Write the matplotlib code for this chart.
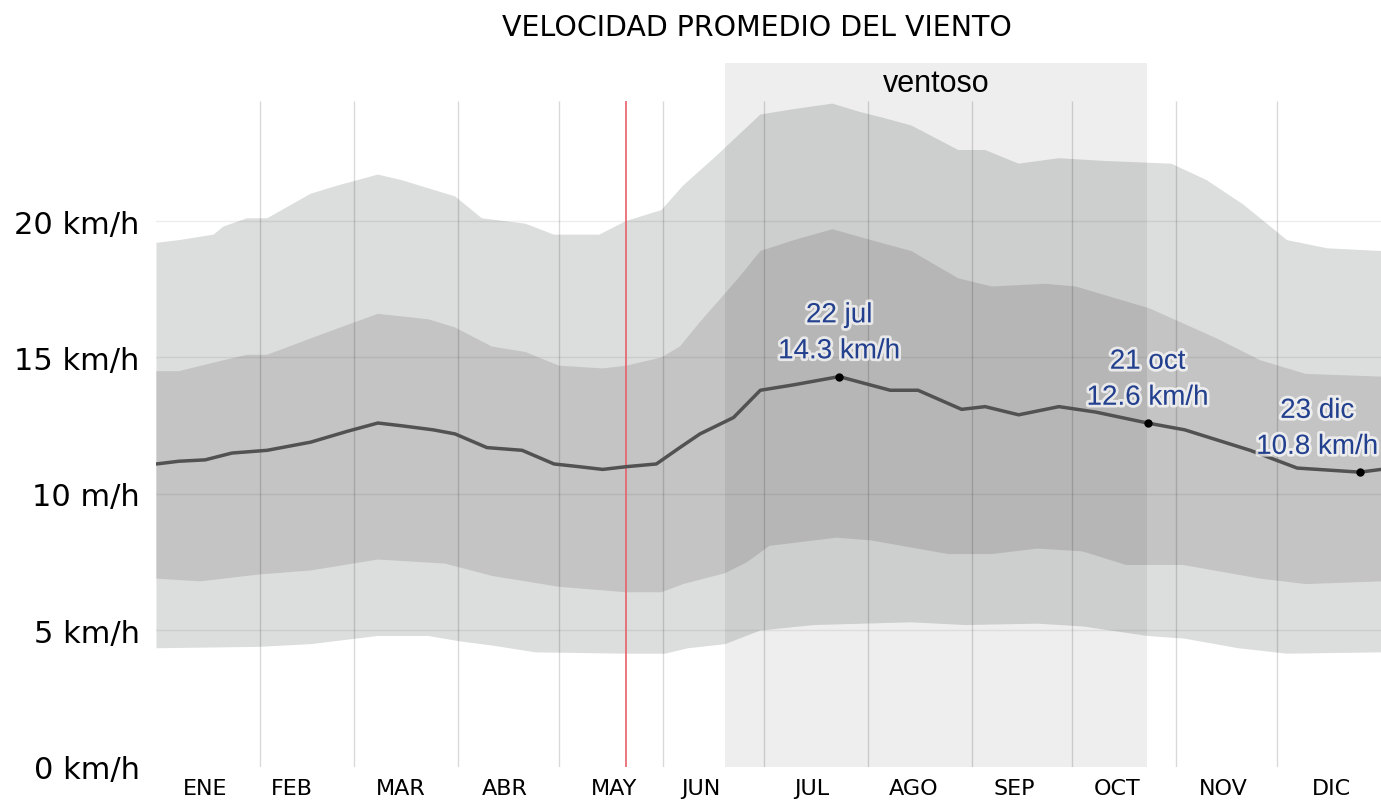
import numpy as np
import matplotlib
matplotlib.use("Agg")
import matplotlib.pyplot as plt
import matplotlib.patheffects as pe

# day of year (0 = 1 Jan) and km/h
p90_days = [0, 6.7, 17, 20, 27, 33, 46, 54, 66, 73, 81, 89, 97, 110, 118.5, 132, 140, 150.5,
            157, 167, 180, 190, 201.5, 209.5, 216, 225, 239, 247, 257, 269, 282.5, 302.5,
            313, 324, 333, 337, 349, 365]
p90 = [19.2, 19.3, 19.5, 19.8, 20.1, 20.1, 21.0, 21.3, 21.7, 21.5, 21.2, 20.9, 20.1, 19.9,
       19.5, 19.5, 20.0, 20.4, 21.3, 22.4, 23.9, 24.1, 24.3, 24.0, 23.8, 23.5, 22.6, 22.6,
       22.1, 22.3, 22.2, 22.1, 21.5, 20.6, 19.7, 19.3, 19.0, 18.9]

p75_days = [0, 6.7, 20, 27, 33, 46, 57, 66, 81, 89, 100, 110, 120, 133, 140, 150.5, 156,
            162, 173.4, 180, 190, 201.5, 213, 225, 239, 249, 265, 274, 296, 316, 329, 342.5, 365]
p75 = [14.5, 14.5, 14.9, 15.1, 15.1, 15.7, 16.2, 16.6, 16.4, 16.1, 15.4, 15.2, 14.7, 14.6,
       14.7, 15.0, 15.4, 16.3, 17.9, 18.9, 19.3, 19.7, 19.3, 18.9, 17.9, 17.6, 17.7, 17.6,
       16.8, 15.7, 14.9, 14.4, 14.3]

med_days = [0, 6.7, 14.5, 22.5, 33, 46, 57, 66, 73, 82.5, 89, 98.5, 109, 118.5, 126, 133,
            140, 149, 156, 162, 172, 180, 190, 203.5, 218.7, 227, 240, 247, 257, 269, 280,
            295.4, 306.5, 326, 340, 358.7, 365]
med = [11.1, 11.2, 11.25, 11.5, 11.6, 11.9, 12.3, 12.6, 12.5, 12.35, 12.2, 11.7, 11.6, 11.1,
       11.0, 10.9, 11.0, 11.1, 11.7, 12.2, 12.8, 13.8, 14.0, 14.3, 13.8, 13.8, 13.1, 13.2,
       12.9, 13.2, 13.0, 12.6, 12.35, 11.6, 10.95, 10.8, 10.9]

p25_days = [0, 13, 30.5, 46, 66, 86, 100, 120, 140, 150.5, 157, 169.5, 176, 182.7, 202.7,
            213, 236, 249, 262.6, 276, 289, 306, 329, 342.5, 365]
p25 = [6.9, 6.8, 7.05, 7.2, 7.6, 7.45, 7.0, 6.6, 6.4, 6.4, 6.7, 7.1, 7.5, 8.1, 8.4, 8.3,
       7.8, 7.8, 8.0, 7.9, 7.4, 7.4, 6.9, 6.7, 6.8]

p10_days = [0, 30.5, 46, 66, 81, 90.5, 100, 113, 140, 151.6, 158.5, 169.5, 180, 196, 225,
            241, 262.6, 276, 295.4, 306.5, 322.5, 337, 365]
p10 = [4.35, 4.4, 4.5, 4.8, 4.8, 4.6, 4.45, 4.2, 4.15, 4.15, 4.35, 4.5, 5.0, 5.2, 5.3, 5.2,
       5.25, 5.15, 4.8, 4.7, 4.35, 4.15, 4.2]

# highlighted points
hi_days = [203.5, 295.4, 358.7]
hi_vals = [14.3, 12.6, 10.8]
hi_labels = ["22 jul\n14.3 km/h", "21 oct\n12.6 km/h", "23 dic\n10.8 km/h"]
hi_text_x = [203.5, 295.4, 346]

month_starts = [31, 59, 90, 120, 151, 181, 212, 243, 273, 304, 334]
month_names = ["ENE", "FEB", "MAR", "ABR", "MAY", "JUN", "JUL", "AGO", "SEP", "OCT", "NOV", "DIC"]
month_label_pos = [14.5, 40.4, 72.9, 103.9, 136.4, 162.4, 195.2, 225.6, 255.7, 286.4, 318.1, 350.3]

y_ticks = [0, 5, 10, 15, 20]
y_labels = ["0 km/h", "5 km/h", "10 m/h", "15 km/h", "20 km/h"]

today = 139.9
windy = (169.4, 295.3)

fig = plt.figure(figsize=(13.81, 8.04), dpi=100)
ax = fig.add_axes([0.1133, 0.0448, 0.8867, 0.8828])
ax.set_xlim(0, 365)
ax.set_ylim(0, 26)

# bands
ax.fill(list(p90_days) + list(p10_days)[::-1], list(p90) + list(p10)[::-1],
        color="#dcdddd", lw=0, zorder=1)
ax.fill(list(p75_days) + list(p25_days)[::-1], list(p75) + list(p25)[::-1],
        color="#c4c4c4", lw=0, zorder=2)

# windy season overlay
ax.add_patch(plt.Rectangle((windy[0], 0), windy[1] - windy[0], 25.8, color="black",
                           alpha=0.065, lw=0, zorder=3, clip_on=False))
ax.text((windy[0] + windy[1]) / 2, 25.05, "ventoso", ha="center", va="center",
        fontsize=22, family="Liberation Sans", zorder=6)

# grid
for y in y_ticks[1:]:
    ax.axhline(y, color="black", alpha=0.07, lw=1, zorder=4)
ax.vlines(month_starts, 0, 24.4, color="black", alpha=0.15, lw=1, zorder=4)
ax.vlines([today], 0, 24.4, color="#e8606c", lw=1.2, zorder=5)

# median
ax.plot(med_days, med, color="#525252", lw=2.5, zorder=6, solid_capstyle="round")
ax.plot(hi_days, hi_vals, "o", color="black", ms=5, zorder=7)
for x, tx, v, lab in zip(hi_days, hi_text_x, hi_vals, hi_labels):
    ax.text(tx, v + 0.45, lab, ha="center", va="bottom", fontsize=20, color="#23408e",
            family="Liberation Sans", linespacing=1.5, zorder=8,
            path_effects=[pe.withStroke(linewidth=4, foreground="white", alpha=0.7)])

ax.set_yticks(y_ticks)
ax.set_yticklabels(y_labels, fontsize=22, family="DejaVu Sans")
ax.set_xticks(month_label_pos)
ax.set_xticklabels(month_names, fontsize=16, family="DejaVu Sans")
ax.tick_params(axis="both", length=0)
ax.tick_params(axis="y", pad=12)
ax.tick_params(axis="x", pad=8)
for s in ax.spines.values():
    s.set_visible(False)

fig.text(0.548, 0.965, "VELOCIDAD PROMEDIO DEL VIENTO", ha="center", va="center",
         fontsize=20.5, family="DejaVu Sans")

fig.savefig("out.png", dpi=100)
